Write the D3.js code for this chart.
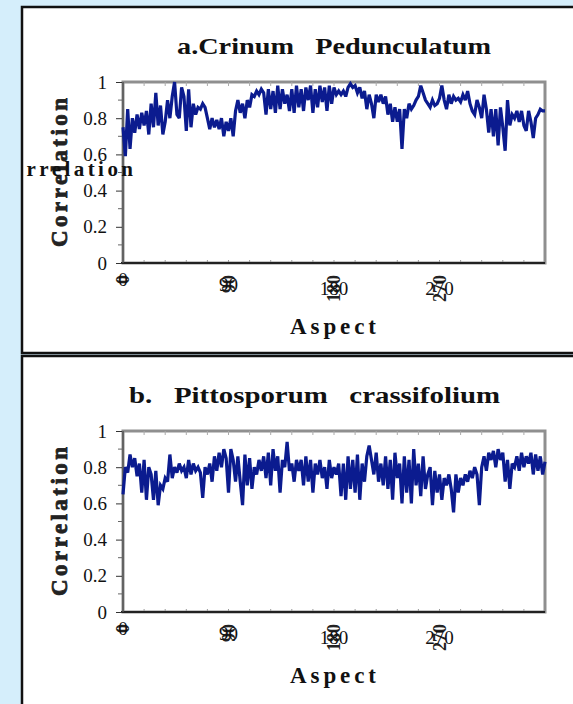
<!DOCTYPE html>
<html><head><meta charset="utf-8">
<script src="https://cdn.jsdelivr.net/npm/d3@7"></script>
<style>html,body{margin:0;padding:0;background:#d5eefb;overflow:hidden;} svg{display:block;}</style>
</head><body><svg id="c" width="573" height="704"></svg>
<script>
// Aspect in degrees (every 2 degrees, 0..360)
const aspects = d3.range(0, 361, 2);

const crinum = [
0.75,0.59,0.85,0.63,0.80,0.72,0.82,0.74,0.83,0.76,0.84,
0.71,0.88,0.75,0.94,0.76,0.87,0.71,0.78,0.90,0.80,
0.92,1.00,0.82,0.80,0.97,0.92,0.73,0.96,0.75,0.88,
0.82,0.86,0.85,0.88,0.86,0.80,0.74,0.80,0.75,0.79,
0.74,0.80,0.70,0.78,0.73,0.80,0.70,0.84,0.90,0.83,
0.88,0.80,0.90,0.86,0.93,0.92,0.95,0.93,0.96,0.94,
0.82,0.96,0.85,0.95,0.83,0.98,0.85,0.96,0.88,0.93,
0.84,0.96,0.83,0.98,0.86,0.96,0.84,0.97,0.90,0.98,
0.83,0.96,0.86,0.98,0.89,0.97,0.84,0.98,0.88,0.97,
0.93,0.95,0.93,0.95,0.92,0.97,0.99,0.97,0.98,0.94,
0.97,0.91,0.95,0.85,0.93,0.88,0.80,0.93,0.89,0.93,
0.88,0.92,0.82,0.88,0.78,0.86,0.78,0.85,0.63,0.85,
0.80,0.88,0.85,0.87,0.90,0.92,0.98,0.94,0.90,0.88,
0.86,0.90,0.87,0.88,0.91,0.98,0.90,0.85,0.93,0.88,
0.92,0.90,0.91,0.89,0.93,0.90,0.95,0.88,0.84,0.82,
0.90,0.86,0.80,0.93,0.85,0.72,0.85,0.70,0.85,0.65,
0.86,0.75,0.62,0.90,0.76,0.82,0.80,0.84,0.78,0.84,
0.76,0.73,0.84,0.78,0.69,0.80,0.82,0.85,0.84,0.84
];

const pittosporum = [
0.65,0.80,0.77,0.87,0.80,0.85,0.75,0.82,0.66,0.84,0.62,
0.80,0.76,0.62,0.78,0.59,0.70,0.68,0.74,0.72,0.87,
0.74,0.80,0.77,0.82,0.78,0.80,0.74,0.84,0.76,0.82,
0.78,0.80,0.77,0.63,0.80,0.76,0.82,0.72,0.86,0.78,
0.88,0.80,0.90,0.85,0.66,0.90,0.84,0.72,0.86,0.72,
0.59,0.87,0.70,0.85,0.68,0.80,0.76,0.84,0.78,0.86,
0.74,0.88,0.70,0.90,0.78,0.86,0.66,0.84,0.80,0.94,
0.78,0.82,0.72,0.84,0.78,0.84,0.70,0.86,0.72,0.84,
0.66,0.82,0.76,0.84,0.74,0.80,0.68,0.84,0.74,0.80,
0.76,0.82,0.64,0.82,0.62,0.86,0.68,0.84,0.66,0.87,
0.62,0.82,0.72,0.86,0.92,0.84,0.76,0.88,0.72,0.82,
0.70,0.86,0.68,0.84,0.62,0.88,0.74,0.82,0.60,0.86,
0.66,0.84,0.60,0.90,0.70,0.82,0.64,0.86,0.68,0.76,
0.80,0.59,0.78,0.66,0.76,0.62,0.74,0.70,0.76,0.68,
0.55,0.76,0.66,0.74,0.70,0.76,0.72,0.78,0.74,0.80,
0.76,0.59,0.80,0.86,0.78,0.88,0.84,0.89,0.80,0.90,
0.84,0.88,0.72,0.84,0.68,0.82,0.80,0.86,0.78,0.88,
0.80,0.86,0.82,0.88,0.76,0.87,0.78,0.86,0.76,0.83
];

const panelTitles = ["a.Crinum   Pedunculatum", "b.   Pittosporum   crassifolium"];
const xTickValues = [0, 90, 180, 270];
const yTickValues = [0, 0.2, 0.4, 0.6, 0.8, 1];
const xLabel = "Aspect";
const yLabel = "Correlation";

const serif = "'Liberation Serif','Times New Roman',serif";
const svg = d3.select("#c");
const x = d3.scaleLinear().domain([0, 360]).range([123, 545]);
const y = d3.scaleLinear().domain([0, 1]).range([263, 82]);

const panels = [
  {title: panelTitles[0], values: crinum, top: 7, height: 346, dy: 0, titleX: 177, titleW: 314},
  {title: panelTitles[1], values: pittosporum, top: 356, height: 352, dy: 349, titleX: 129, titleW: 371}
];

panels.forEach((p, i) => {
  const clipId = "clip" + i;
  svg.append("clipPath").attr("id", clipId)
    .append("rect").attr("x", 23).attr("y", p.top).attr("width", 560).attr("height", p.height);

  svg.append("rect")
    .attr("x", 22).attr("y", p.top).attr("width", 560).attr("height", p.height)
    .attr("fill", "#fff").attr("stroke", "#111").attr("stroke-width", 2.5);

  const g = svg.append("g").attr("transform", `translate(0,${p.dy})`);

  // title
  g.append("text")
    .attr("x", p.titleX).attr("y", 54)
    .attr("textLength", p.titleW).attr("lengthAdjust", "spacingAndGlyphs")
    .style("white-space", "pre")
    .attr("font-family", serif).attr("font-weight", "bold").attr("font-size", 24)
    .attr("fill", "#111").text(p.title);

  // plot frame
  g.append("rect")
    .attr("x", x(0)).attr("y", y(1)).attr("width", x(360) - x(0)).attr("height", y(0) - y(1))
    .attr("fill", "none").attr("stroke", "#8f8f8f").attr("stroke-width", 3);

  // small gridline stubs on top & bottom borders
  const stubs = d3.range(18, 360, 18);
  g.selectAll(".stubT").data(stubs).enter().append("line")
    .attr("x1", d => x(d)).attr("x2", d => x(d)).attr("y1", y(1)).attr("y2", y(1) + 4)
    .attr("stroke", "#aaa").attr("stroke-width", 1);
  g.selectAll(".stubB").data(stubs).enter().append("line")
    .attr("x1", d => x(d)).attr("x2", d => x(d)).attr("y1", y(0)).attr("y2", y(0) - 3)
    .attr("stroke", "#999").attr("stroke-width", 1);

  // bottom axis line
  g.append("line").attr("x1", x(0) - 2).attr("x2", x(360)).attr("y1", y(0)).attr("y2", y(0))
    .attr("stroke", "#222").attr("stroke-width", 2);
  // left axis line
  g.append("line").attr("x1", x(0)).attr("x2", x(0)).attr("y1", y(1)).attr("y2", y(0))
    .attr("stroke", "#555").attr("stroke-width", 1.5);

  // y axis via d3
  const yAxis = d3.axisLeft(y).tickValues(yTickValues).tickSize(6).tickPadding(9)
    .tickFormat(d => d === 0 || d === 1 ? String(d) : d.toFixed(1));
  const ya = g.append("g").attr("transform", `translate(${x(0) - 1},0)`).call(yAxis);
  ya.select(".domain").remove();
  ya.selectAll(".tick line").attr("stroke", "#333");
  ya.selectAll(".tick text").attr("font-family", serif).attr("font-size", 19).attr("fill", "#111");
  // minor y ticks
  g.selectAll(".ymin").data([0.1, 0.3, 0.5, 0.7, 0.9]).enter().append("line")
    .attr("x1", x(0) - 5).attr("x2", x(0)).attr("y1", d => y(d)).attr("y2", d => y(d))
    .attr("stroke", "#666").attr("stroke-width", 1);

  // x tick labels: horizontal + rotated overlap
  const xt = g.selectAll(".xt").data(xTickValues).enter().append("g")
    .attr("transform", d => `translate(${x(d)},0)`);
  const rot = xt.append("text")
    .attr("transform", "translate(0,275) rotate(-90)")
    .attr("text-anchor", "end").attr("dy", "0.35em")
    .attr("font-family", serif).attr("font-weight", "bold").attr("font-size", 18)
    .attr("fill", "#222").text(d => d);
  xt.append("text")
    .attr("y", function(d, j) {
      const len = rot.nodes()[j].getComputedTextLength();
      return 275 + len / 2;
    })
    .attr("text-anchor", "middle").attr("dy", "0.35em")
    .attr("font-family", serif).attr("font-size", 19).attr("fill", "#111").text(d => d);

  // x label
  g.append("text").attr("x", 290).attr("y", 334)
    .attr("textLength", 86).attr("lengthAdjust", "spacing")
    .attr("font-family", serif).attr("font-weight", "bold").attr("font-size", 23)
    .attr("fill", "#111").text(xLabel);

  // y label rotated
  g.append("text").attr("transform", "translate(67,247) rotate(-90)")
    .attr("textLength", 149).attr("lengthAdjust", "spacing")
    .attr("font-family", serif).attr("font-weight", "900").attr("font-size", 23)
    .attr("fill", "#222").attr("stroke", "#222").attr("stroke-width", 0.8)
    .text(yLabel);

  // y label horizontal ghost (clipped by panel border, only "rrelation" shows)
  const gc = svg.append("g").attr("clip-path", `url(#${clipId})`)
    .attr("transform", `translate(0,${p.dy})`);
  gc.append("text").attr("x", -6).attr("y", 176)
    .attr("textLength", 139).attr("lengthAdjust", "spacing")
    .attr("font-family", serif).attr("font-weight", "bold").attr("font-size", 21)
    .attr("fill", "#111").text(yLabel);

  // data line
  const line = d3.line().x((d, k) => x(aspects[k])).y(d => y(d));
  g.append("path").datum(p.values).attr("d", line)
    .attr("fill", "none").attr("stroke", "#0b1b8f").attr("stroke-width", 3.2)
    .attr("stroke-linejoin", "miter").attr("stroke-miterlimit", 3);
});
</script>
</body></html>
